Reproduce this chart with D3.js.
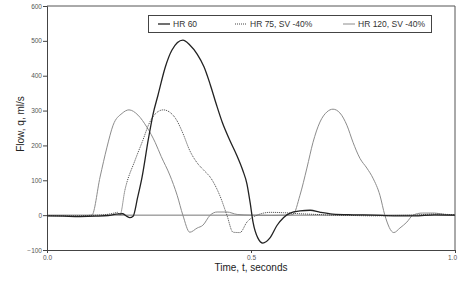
<!DOCTYPE html>
<html>
<head>
<meta charset="utf-8">
<script src="https://cdn.jsdelivr.net/npm/d3@7"></script>
<style>
    body { margin: 0; background: #fff; }
    svg { display: block; font-family: "Liberation Sans", Arial, sans-serif; }
</style>
</head>
<body>
<svg width="458" height="295"></svg>
<script>
// time (s) and flow (ml/s)
var hr60T = [0, 0.04, 0.08, 0.12, 0.15, 0.17, 0.185, 0.195, 0.203, 0.211, 0.222, 0.233, 0.248, 0.26, 0.272, 0.29, 0.306, 0.333, 0.35, 0.368, 0.385, 0.4, 0.415, 0.43, 0.448, 0.465, 0.48, 0.49, 0.498, 0.505, 0.517, 0.529, 0.546, 0.564, 0.596, 0.62, 0.645, 0.67, 0.7, 0.75, 0.8, 0.85, 0.9, 0.95, 1.0]
var hr60Q = [-2, -3, -4, -3, -1, 3, 4, -3, -7, -3, 50, 109, 215, 290, 344, 425, 473, 502, 488, 462, 425, 375, 318, 265, 215, 172, 128, 90, 35, -20, -66, -80, -66, -29, 6, 12, 14, 8, 3, 1, 0, -2, -2, 1, 0]

var hr75T = [0, 0.05, 0.1, 0.14, 0.165, 0.173, 0.179, 0.191, 0.216, 0.235, 0.25, 0.265, 0.285, 0.3, 0.318, 0.333, 0.35, 0.368, 0.385, 0.4, 0.424, 0.441, 0.456, 0.473, 0.49, 0.515, 0.547, 0.58, 0.62, 0.66, 0.7, 0.75, 0.8, 0.85, 0.9, 0.95, 1.0]
var hr75Q = [-1, -2, -1, 1, 6, 8, 1, 72, 158, 215, 262, 290, 302, 296, 272, 235, 185, 150, 128, 109, 55, 0, -49, -50, -20, 0, 8, 7, 4, 2, 0, -1, -2, -1, 0, 3, 1]

var hr120T = [0, 0.04, 0.08, 0.1, 0.11, 0.13, 0.147, 0.162, 0.184, 0.201, 0.223, 0.245, 0.265, 0.28, 0.301, 0.319, 0.333, 0.35, 0.368, 0.382, 0.4, 0.417, 0.441, 0.466, 0.5, 0.55, 0.59, 0.603, 0.62, 0.637, 0.652, 0.669, 0.686, 0.701, 0.718, 0.735, 0.75, 0.767, 0.784, 0.799, 0.816, 0.828, 0.85, 0.865, 0.882, 0.897, 0.92, 0.95, 0.975, 1.0]
var hr120Q = [-2, -1, -2, -1, 0, 109, 195, 258, 292, 302, 287, 252, 209, 168, 115, 57, 0, -49, -37, -29, 0, 9, 9, 2, 0, -1, 0, 2, 57, 135, 209, 267, 296, 304, 293, 258, 209, 163, 135, 106, 57, 0, -50, -37, -20, 0, 6, 6, 2, 0]

var seriesNames = ['HR 60', 'HR 75, SV -40%', 'HR 120, SV -40%']
var xTicks = [0, 0.5, 1.0]
var yTicks = [-100, 0, 100, 200, 300, 400, 500, 600]

var series = [
    { name: seriesNames[0], t: hr60T, q: hr60Q, color: '#222', width: 1.3, dash: null },
    { name: seriesNames[1], t: hr75T, q: hr75Q, color: '#444', width: 1, dash: '1,1' },
    { name: seriesNames[2], t: hr120T, q: hr120Q, color: '#8c8c8c', width: 1, dash: null }
]

var svg = d3.select('svg')
var m = { left: 47, right: 3, top: 6, bottom: 45 }
var W = 458, H = 295

var x = d3.scaleLinear().domain([0, 1]).range([m.left, W - m.right])
var y = d3.scaleLinear().domain([-100, 600]).range([H - m.bottom, m.top])

// frame top / right
svg.append('path')
    .attr('d', 'M' + x(0) + ',' + y(600) + 'H' + x(1) + 'V' + y(-100))
    .style('fill', 'none')
    .style('stroke', '#555')
    .style('stroke-width', 1)

// zero line
svg.append('line')
    .attr('x1', x(0))
    .attr('x2', x(1))
    .attr('y1', y(0))
    .attr('y2', y(0))
    .style('stroke', '#666')
    .style('stroke-width', 0.9)

var yAxis = svg.append('g')
    .attr('transform', 'translate(' + x(0) + ',0)')
    .call(d3.axisLeft(y).tickValues(yTicks).tickSize(4).tickPadding(1).tickFormat(d3.format('d')))
var xAxis = svg.append('g')
    .attr('transform', 'translate(0,' + y(-100) + ')')
    .call(d3.axisBottom(x).tickValues(xTicks).tickSize(3).tickPadding(2).tickFormat(d3.format('.1f')))

svg.selectAll('.domain')
    .style('stroke', '#444')
svg.selectAll('.tick line')
    .style('stroke', '#444')
svg.selectAll('.tick text')
    .style('font-size', '6.5px')
    .style('fill', '#555')
    .style('font-family', '"Liberation Sans", Arial, sans-serif')

// last x label sits at the page edge, pull it in a little
xAxis.selectAll('.tick text')
    .filter(d => d === 1)
    .attr('dx', -3)

var line = d3.line()
    .x(d => x(d[0]))
    .y(d => y(d[1]))
    .curve(d3.curveMonotoneX)

series.slice().reverse().forEach(s => {
    svg.append('path')
        .datum(s.t.map((t, i) => [t, s.q[i]]))
        .attr('d', line)
        .style('fill', 'none')
        .style('stroke', s.color)
        .style('stroke-width', s.width)
        .style('stroke-dasharray', s.dash)
})

// legend
var lg = svg.append('g')
lg.append('rect')
    .attr('x', 148.5)
    .attr('y', 15.5)
    .attr('width', 283)
    .attr('height', 17)
    .style('fill', '#fff')
    .style('stroke', '#444')
    .style('stroke-width', 1)

var legX = [158, 235, 343]
series.forEach((s, i) => {
    lg.append('line')
        .attr('x1', legX[i])
        .attr('x2', legX[i] + 12)
        .attr('y1', 24)
        .attr('y2', 24)
        .style('stroke', s.color)
        .style('stroke-width', s.width)
        .style('stroke-dasharray', s.dash)
    lg.append('text')
        .attr('x', legX[i] + 15)
        .attr('y', 27)
        .style('font-size', '8.5px')
        .style('fill', '#333')
        .text(s.name)
})

svg.append('text')
    .attr('x', 251)
    .attr('y', 271)
    .attr('text-anchor', 'middle')
    .style('font-size', '10px')
    .style('fill', '#222')
    .text('Time, t, seconds')

svg.append('text')
    .attr('transform', 'translate(24,124) rotate(-90)')
    .attr('text-anchor', 'middle')
    .style('font-size', '10px')
    .style('fill', '#222')
    .text('Flow, q, ml/s')
</script>
</body>
</html>
